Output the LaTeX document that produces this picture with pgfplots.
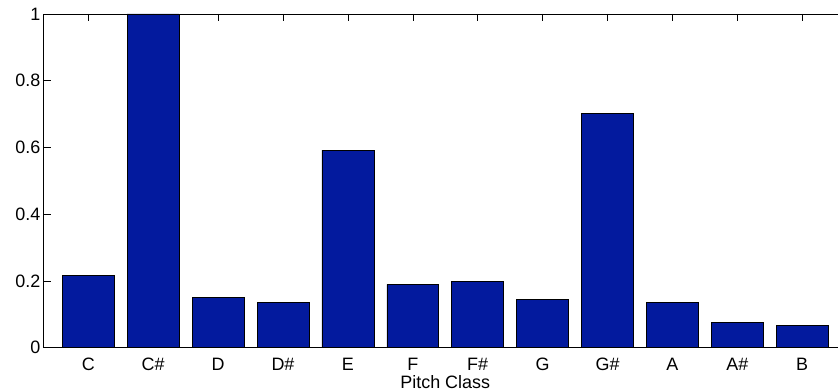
\documentclass[border=0pt]{standalone}
\usepackage{pgfplots}
\pgfplotsset{compat=1.18}
\usepackage{fontspec}
\setmainfont{Liberation Sans}
\definecolor{barblue}{RGB}{3,26,158}
\begin{document}
\begin{tikzpicture}
\begin{axis}[
  at={(0,0)}, anchor=south west,
  scale only axis,
  width=803.5bp, height=333.7bp,
  xmin=-0.69, xmax=11.69, ymin=0, ymax=1,
  enlargelimits=false,
  ybar, bar width=0.8,
  xtick={0,...,11},
  xticklabels={C,C\#,D,D\#,E,F,F\#,G,G\#,A,A\#,B},
  ytick={0,0.2,0.4,0.6,0.8,1},
  yticklabels={0,0.2,0.4,0.6,0.8,1},
  tick align=inside,
  major tick length=7bp,
  tick style={black, line width=0.6bp},
  axis line style={line width=0.8bp},
  tick label style={font=\fontsize{18}{21}\selectfont},
  xticklabel style={anchor=base, yshift=-22.5bp},
  yticklabel style={inner sep=3bp},
  xlabel={Pitch Class},
  xlabel style={font=\fontsize{18}{21}\selectfont,
    at={(axis description cs:0.5,0)}, anchor=base, yshift=-40.5bp},
  clip=false,
]
\addplot[fill=barblue, draw=black, line width=0.6bp] coordinates {
  (0,0.217) (1,1.0) (2,0.150) (3,0.135) (4,0.592) (5,0.190)
  (6,0.199) (7,0.145) (8,0.703) (9,0.136) (10,0.076) (11,0.066)
};
\end{axis}
\pgfresetboundingbox
\path[use as bounding box] (-43.5bp,-44.3bp) rectangle (794.5bp,347.7bp);
\end{tikzpicture}
\end{document}
